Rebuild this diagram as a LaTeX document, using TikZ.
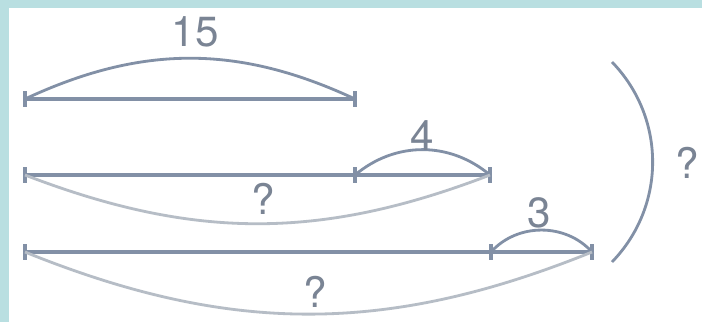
\documentclass[tikz,border=0pt]{standalone}
\usepackage{fontspec}
\setmainfont{TeX Gyre Heros}

\begin{document}
\begin{tikzpicture}[
		x=0.02cm, y=-0.02cm,
		seg/.style={line width=1.9pt, draw=linecol},
		tick/.style={rectangle, fill=linecol, inner sep=0pt, minimum width=2.6pt, minimum height=9pt},
		over/.style={line width=1.6pt, draw=linecol},
		under/.style={line width=1.6pt, draw=lightcol},
		lbl/.style={text=textcol, font=\fontsize{24}{28}\selectfont, inner sep=0pt}
		]
		
		% ==========================================
		% COLOURS AND FRAME
		% ==========================================
		\definecolor{framecol}{HTML}{B9DFE1}
		\definecolor{linecol}{HTML}{8290A6}
		\definecolor{lightcol}{HTML}{B6BDC6}
		\definecolor{textcol}{HTML}{7A8494}
		
		\fill[framecol] (0,0) rectangle (702,322);
		\fill[white] (9,8) rectangle (702,322);
		\useasboundingbox (0,0) rectangle (702,322);
		
		% ==========================================
		% END POINTS OF THE THREE BARS
		% ==========================================
		\coordinate (A1) at (25,99);
		\coordinate (B1) at (355,99);
		
		\coordinate (A2) at (25,175);
		\coordinate (B2) at (355,175);
		\coordinate (C2) at (490,175);
		
		\coordinate (A3) at (25,252);
		\coordinate (B3) at (491,252);
		\coordinate (C3) at (592,252);
		
		% ==========================================
		% BARS WITH TICKS
		% ==========================================
		\draw[seg] (A1) -- (B1);
		\draw[seg] (A2) -- (B2) -- (C2);
		\draw[seg] (A3) -- (B3) -- (C3);
		
		\foreach \P in {A1, B1, A2, B2, C2, A3, B3, C3} {
			\node[tick] (t\P) at (\P) {};
		}
		
		% ==========================================
		% BRACES ABOVE AND BELOW
		% ==========================================
		\draw[over] (A1) to[bend left=25] (B1);
		\draw[over] (B2) to[bend left=40] (C2);
		\draw[over] (B3) to[bend left=48] (C3);
		\draw[under] (A2) to[bend right=21] (C2);
		\draw[under] (A3) to[bend right=22] (C3);
		
		% Big bracket on the right
		\coordinate (T) at (612,62);
		\coordinate (U) at (612,262);
		\draw[over] (T) to[bend left=44] (U);
		
		% ==========================================
		% LABELS
		% ==========================================
		\node[lbl] (n15) at (195,32) {15};
		\node[lbl] (n4) at (422,136) {4};
		\node[lbl] (n3) at (539,213) {3};
		\node[lbl] (q2) at (263,199) {?};
		\node[lbl] (q3) at (315,292) {?};
		\node[lbl] (qall) at (687,163) {?};
		
	\end{tikzpicture}
\end{document}
